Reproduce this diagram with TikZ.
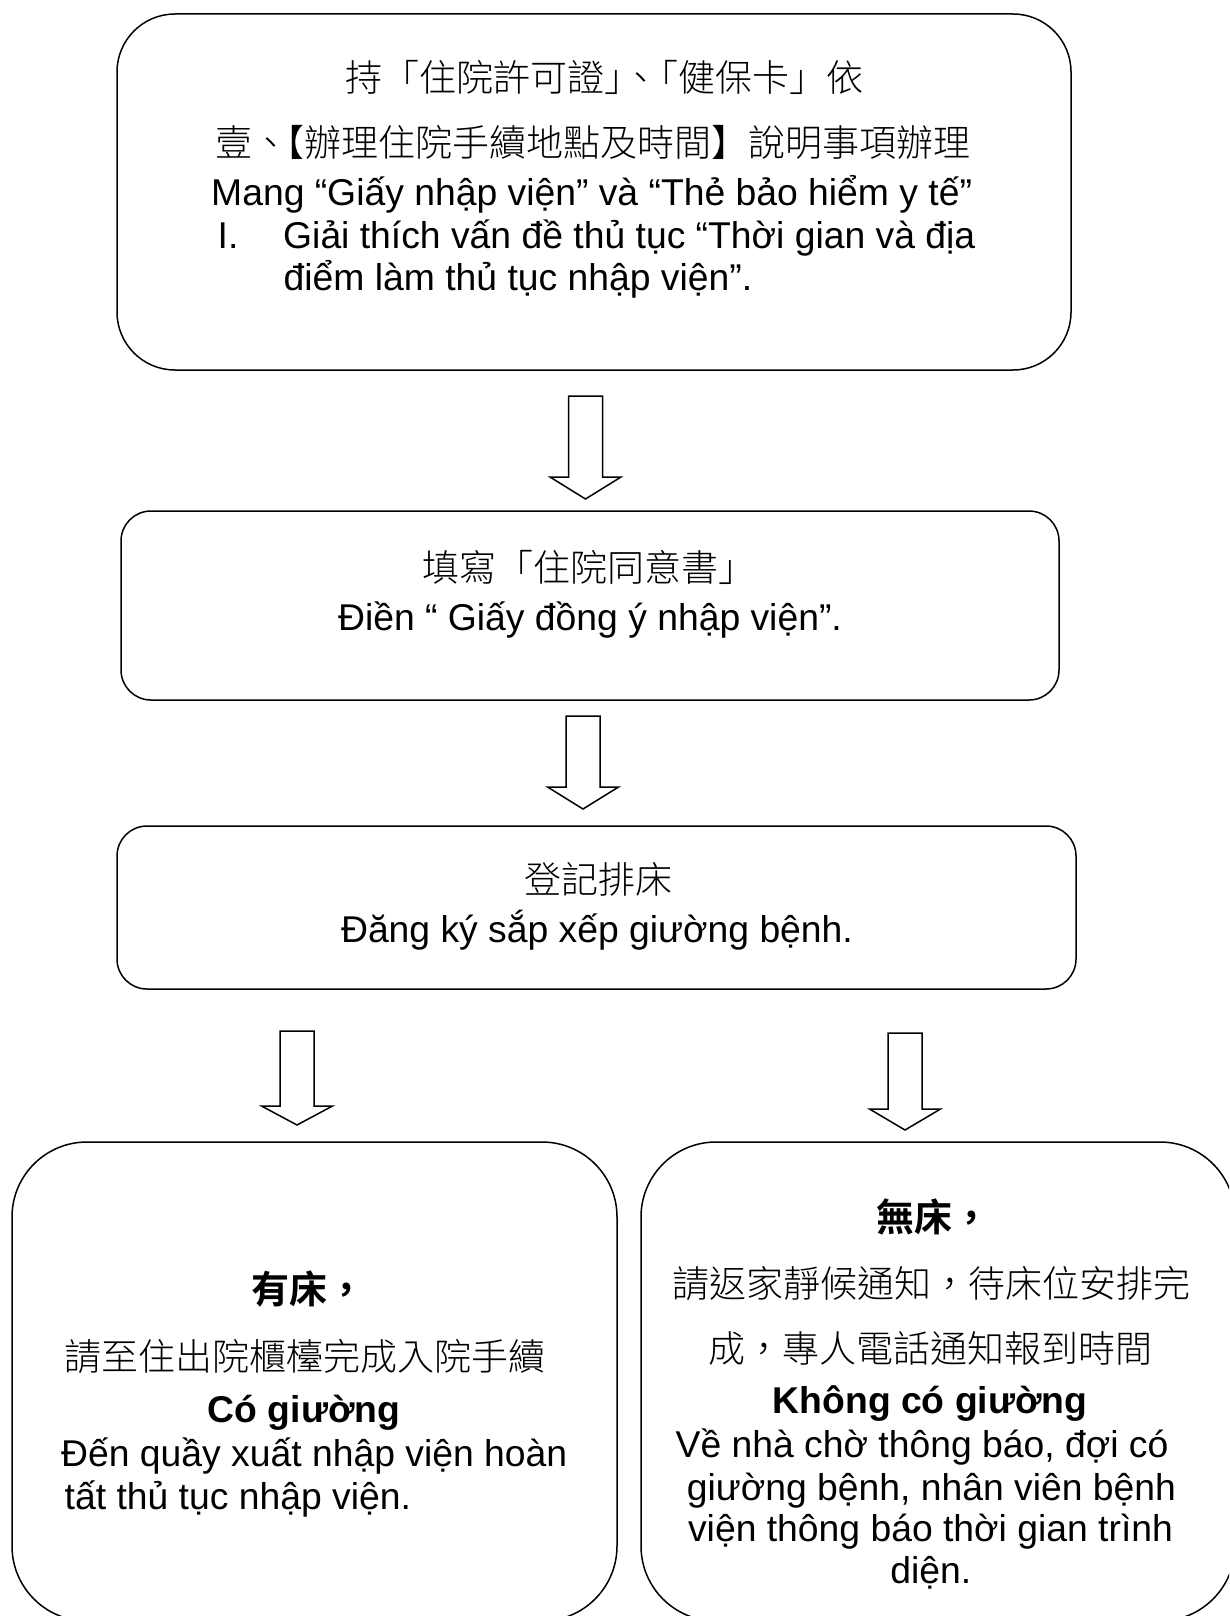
\documentclass[tikz,border=0pt]{standalone}
\usepackage{fontspec}
\setmainfont{Liberation Sans}
\newfontfamily\cjk{Noto Sans CJK TC Light}
\newfontfamily\cjkbold{Noto Sans CJK TC Bold}
\newcommand\vtf{\fontsize{37.3}{42}\selectfont}
\newcommand\cjf{\cjk\fontsize{37}{42}\selectfont}
\newcommand\cjbf{\cjkbold\fontsize{38}{42}\selectfont}
\newcommand\hollowarrow[4]{%
  \draw[arrowline] (#1-17,#2) -- (#1+17,#2) -- (#1+17,#3) -- (#1+35.5,#3)
    -- (#1,#4) -- (#1-35.5,#3) -- (#1-17,#3) -- cycle;}
\tikzset{
  box/.style={draw, line width=1.5pt, inner sep=0pt},
  arrowline/.style={draw, line width=1.5pt, line join=miter},
  vt/.style={inner sep=0pt, anchor=base, font=\vtf},
  vtl/.style={inner sep=0pt, anchor=base west, font=\vtf},
  vtb/.style={inner sep=0pt, anchor=base, font=\vtf\bfseries},
  cj/.style={inner sep=0pt, anchor=base, font=\cjf},
  cjb/.style={inner sep=0pt, anchor=base, font=\cjbf},
}
\begin{document}
\begin{tikzpicture}[x=1pt, y=-1pt]
\useasboundingbox (0,0) rectangle (1229,1616);
\clip (0,0) rectangle (1229,1616);
\fill[white] (0,0) rectangle (1229,1616);

% boxes
\node[box, rounded corners=58pt, minimum width=954pt, minimum height=356pt] (b1) at (594,192) {};
\node[box, rounded corners=30pt, minimum width=938pt, minimum height=189pt] (b2) at (590,605.5) {};
\node[box, rounded corners=30pt, minimum width=959pt, minimum height=163pt] (b3) at (596.5,907.5) {};
\node[box, rounded corners=75pt, minimum width=605pt, minimum height=479pt] (b4) at (314.5,1381.5) {};
\node[box, rounded corners=75pt, minimum width=594pt, minimum height=479pt] (b5) at (938,1381.5) {};

% hollow block arrows
\hollowarrow{585.5}{396}{477}{499}
\hollowarrow{583}{716}{787}{809}
\hollowarrow{297}{1031}{1106}{1125}
\hollowarrow{905}{1033}{1109}{1130}

% box 1 text
\node[cj] (t11) at (604,92) {持「住院許可證」\kern-.5em、\kern-.5em「健保卡」依};
\node[cj] (t12) at (593,157) {壹、\kern-.6em【辦理住院手續地點及時間】說明事項辦理};
\node[vtl] (t13) at (211,206) {Mang “Giấy nhập viện” và “Thẻ bảo hiểm y tế”};
\node[vtl] (t14a) at (217.5,248) {I.};
\node[vtl] (t14b) at (283,248) {Giải thích vấn đề thủ tục “Thời gian và địa};
\node[vtl] (t15) at (283.5,290) {điểm làm thủ tục nhập viện”.};

% box 2 text
\node[cj] (t21) at (589,581) {填寫「住院同意書」};
\node[vt] (t22) at (590,630) {Điền “ Giấy đồng ý nhập viện”.};

% box 3 text
\node[cj] (t31) at (598,893) {登記排床};
\node[vt] (t32) at (597,942) {Đăng ký sắp xếp giường bệnh.};

% box 4 text
\node[cjb] (t41) at (308,1303) {有床，};
\node[cj] (t42) at (305,1370) {請至住出院櫃檯完成入院手續};
\node[vtb] (t43) at (304,1422) {Có giường};
\node[vtl] (t44) at (61,1466) {Đến quầy xuất nhập viện hoàn};
\node[vtl] (t45) at (64.5,1509) {tất thủ tục nhập viện.};

% box 5 text
\node[cjb] (t51) at (933,1231) {無床，};
\node[cj] (t52) at (931,1297) {請返家靜候通知，待床位安排完};
\node[cj] (t53) at (930.5,1362) {成，專人電話通知報到時間};
\node[vtb] (t54) at (930,1413.5) {Không có giường};
\node[vt] (t55) at (922,1457) {Về nhà chờ thông báo, đợi có};
\node[vt] (t56) at (931.5,1500) {giường bệnh, nhân viên bệnh};
\node[vt] (t57) at (930.5,1541) {viện thông báo thời gian trình};
\node[vt] (t58) at (930.7,1583) {diện.};
\end{tikzpicture}
\end{document}
